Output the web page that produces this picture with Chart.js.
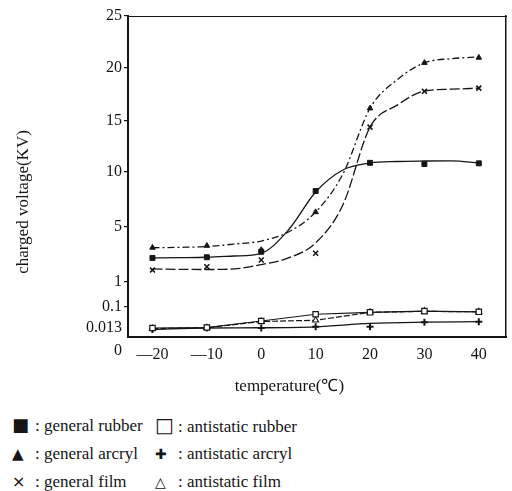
<!DOCTYPE html>
<html>
<head>
<meta charset="utf-8">
<script src="https://cdn.jsdelivr.net/npm/chart.js@4.4.0/dist/chart.umd.min.js"></script>
<style>
  body { margin: 0; background: #fff; }
  #wrap { position: relative; width: 512px; height: 491px; }
  #legend div { position: absolute; font-family: "Liberation Serif", serif; font-size: 17px; color: #151515; height: 28px; line-height: 28px; white-space: nowrap; }
  #legend .mk { display: inline-block; width: 23px; font-family: "DejaVu Sans", sans-serif; text-align: left; }
</style>
</head>
<body>
<div id="wrap">
  <canvas id="myChart" width="512" height="400"></canvas>
  <div id="legend"></div>
</div>
<script>
const temps = [-20, -10, 0, 10, 20, 30, 40];
const curveTemps = [-20, -15, -10, -5, 0, 5, 10, 15, 20, 25, 30, 35, 40];

// measured points (KV)
const rubberPts = [2.75, 2.8, 3.2, 8.27, 10.9, 10.78, 10.85];
const arcrylPts = [3.5, 3.64, 3.33, 6.36, 16.2, 20.5, 21.0];
const filmPts = [1.87, 2.11, 2.6, 3.09, 14.4, 17.8, 18.1];
const asRubberPts = [0.013, 0.015, 0.042, 0.070, 0.078, 0.083, 0.080];
const asArcrylPts = [0.011, 0.013, 0.013, 0.018, 0.018, 0.037, 0.039];
const asFilmPts = [0.012, 0.014, 0.040, 0.045, 0.078, 0.082, 0.080];

// fitted curves, every 5 degrees
const rubberCurve = [2.75, 2.77, 2.8, 2.89, 3.09, 4.78, 8.18, 10.2, 10.88, 11.03, 11.08, 11.1, 10.88];
const arcrylCurve = [3.49, 3.52, 3.58, 3.76, 3.98, 4.64, 6.36, 9.8, 16.2, 18.9, 20.5, 20.9, 21.06];
const filmCurve = [1.95, 1.92, 1.91, 1.95, 2.27, 2.75, 3.84, 7.0, 14.4, 16.5, 17.83, 18.0, 18.1];
const asArcrylLine = [0.011, 0.013, 0.014, 0.018, 0.032, 0.037, 0.039];

// y axis is broken, every tick has its own place on the axis
const yTickValues = [0, 0.013, 0.1, 1, 5, 10, 15, 20, 25];
const yTickLabels = ['0', '0.013', '0.1', '1', '5', '10', '15', '20', '25'];
const yTickPlace = [0, 9, 30, 55, 110, 165, 216, 269, 321];

const legendNames = ['general rubber', 'antistatic rubber', 'general arcryl', 'antistatic arcryl', 'general film', 'antistatic film'];
const legendMarks = ['■', '□', '▲', '✚', '×', '△'];

const ink = '#151515';
const serif = 'Liberation Serif';

function toAxis(v) {
  for (let i = 0; i < yTickValues.length - 1; i++) {
    const a = yTickValues[i], b = yTickValues[i + 1];
    if (v <= b || i == yTickValues.length - 2) {
      return yTickPlace[i] + (v - a) / (b - a) * (yTickPlace[i + 1] - yTickPlace[i]);
    }
  }
}

function pts(xs, ys) {
  return xs.map((x, i) => ({ x: x, y: toAxis(ys[i]) }));
}

function curve(xs, ys, dash) {
  return {
    data: pts(xs, ys),
    borderColor: ink,
    borderWidth: 1.3,
    borderDash: dash,
    pointRadius: 0,
    cubicInterpolationMode: 'monotone',
    fill: false
  };
}

function marks(ys, style, fill, r, bw, line, dash) {
  return {
    data: pts(temps, ys),
    showLine: !!line,
    borderColor: ink,
    borderWidth: 1.2,
    borderDash: dash || [],
    pointStyle: style,
    pointRadius: r,
    pointBackgroundColor: fill,
    pointBorderColor: ink,
    pointBorderWidth: bw
  };
}

const ctx = document.getElementById('myChart');

new Chart(ctx, {
  type: 'line',
  data: {
    datasets: [
      marks(rubberPts, 'rect', ink, 3.5, 1),
      marks(arcrylPts, 'triangle', ink, 3.2, 1),
      marks(filmPts, 'crossRot', ink, 3.5, 1.6),
      marks(asRubberPts, 'rect', '#fff', 3.8, 1.2, true),
      marks(asArcrylPts, 'cross', ink, 3.5, 2),
      marks(asFilmPts, 'triangle', '#fff', 3.5, 1.1, true, [6, 2]),
      curve(curveTemps, rubberCurve, []),
      curve(curveTemps, arcrylCurve, [7, 3, 2, 3]),
      curve(curveTemps, filmCurve, [10, 3]),
      curve(temps, asArcrylLine, [])
    ]
  },
  options: {
    responsive: false,
    animation: false,
    devicePixelRatio: 1,
    layout: { padding: { top: 16, right: 2, left: 0, bottom: 0 } },
    plugins: { legend: { display: false }, tooltip: { enabled: false } },
    scales: {
      x: {
        type: 'linear', min: -24.5, max: 45,
        afterBuildTicks: s => { s.ticks = temps.map(v => ({ value: v })); },
        afterFit: s => { s.height = 63; },
        ticks: {
          autoSkip: false, maxRotation: 0, padding: 8, color: ink,
          font: { family: serif, size: 16 },
          callback: v => v < 0 ? '\u2014' + (-v) : '' + v
        },
        grid: { display: false, drawTicks: false },
        border: { color: ink, width: 2 },
        title: {
          display: true, text: 'temperature(℃)' + '\u00a0'.repeat(13), color: ink,
          font: { family: serif, size: 17 }, padding: { top: 0, bottom: 3 }
        }
      },
      y: {
        type: 'linear', min: 0, max: 321,
        afterBuildTicks: s => { s.ticks = yTickPlace.map(v => ({ value: v })); },
        afterFit: s => { s.width = 128; },
        ticks: {
          autoSkip: false, padding: 2, color: ink,
          font: c => ({ family: serif, size: 16, lineHeight: c.index === 0 ? '27px' : 1.2 }),
          callback: (v, i) => i === 0 ? ['', yTickLabels[0]] : yTickLabels[i]
        },
        grid: {
          drawOnChartArea: false, drawTicks: true, tickLength: 4, lineWidth: 1.2,
          tickColor: c => c.index < 2 ? 'rgba(0,0,0,0)' : ink
        },
        border: { color: ink, width: 2 },
        title: {
          display: true, text: 'charged voltage(KV)' + '\u00a0'.repeat(12), color: ink,
          font: { family: serif, size: 17 }, padding: { top: 13, bottom: 0 }
        }
      },
      x2: {
        type: 'linear', position: 'top', display: true, min: -24.5, max: 45,
        ticks: { display: false }, grid: { display: false, drawTicks: false },
        border: { color: ink, width: 1, dash: [7, 3, 2, 3] },
        afterFit: s => { s.height = 0; }
      },
      y2: {
        type: 'linear', position: 'right', display: true, min: 0, max: 321,
        ticks: { display: false }, grid: { display: false, drawTicks: false },
        border: { color: ink, width: 1.5 },
        afterFit: s => { s.width = 0; }
      }
    }
  }
});

// legend below the chart, two columns like the figure
const legend = document.getElementById('legend');
const markSize = [18, 20, 15, 14, 16, 14];
legendNames.forEach((name, i) => {
  const d = document.createElement('div');
  d.style.left = (i % 2 == 0 ? 12 : 155) + 'px';
  d.style.top = (411 + Math.floor(i / 2) * 28.5) + 'px';
  d.innerHTML = `<span class="mk" style="font-size:${markSize[i]}px">${legendMarks[i]}</span>: ${name}`;
  legend.appendChild(d);
});
</script>
</body>
</html>
